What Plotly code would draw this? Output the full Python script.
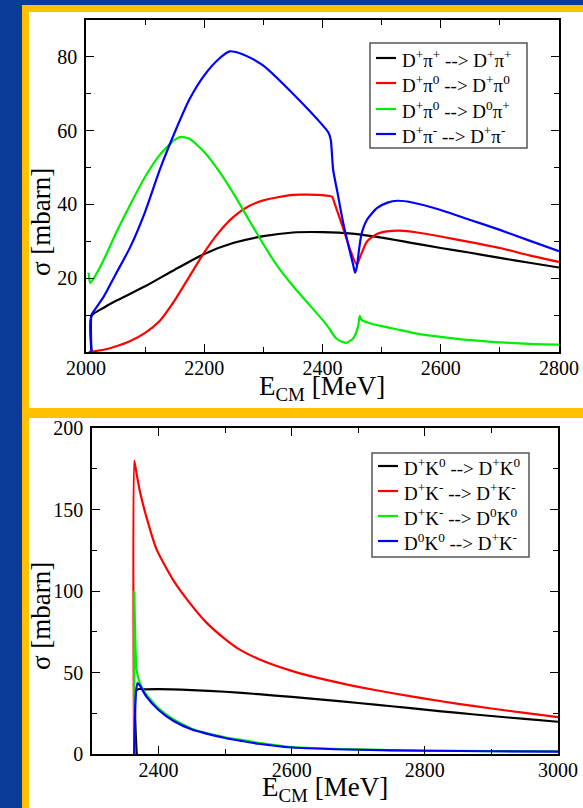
import plotly.graph_objects as go

W, H = 583, 808

# ---------------- top panel data (E_CM [MeV], sigma [mbarn]) ----------------
top_black_E = [2009.2, 2009.3, 2030, 2050, 2100, 2150, 2200, 2250, 2300, 2350, 2400, 2450,
               2500, 2550, 2600, 2650, 2700, 2750, 2800]
top_black_s = [0, 9.8, 12.0, 13.8, 17.8, 22.3, 26.6, 29.6, 31.4, 32.4, 32.5, 32.1,
               31.0, 29.6, 28.2, 26.9, 25.5, 24.2, 22.9]

top_red_E = [2004.6, 2030, 2050, 2075, 2100, 2125, 2150, 2175, 2200, 2225, 2250, 2275, 2300,
             2350, 2400, 2416, 2421, 2435, 2447, 2458, 2464, 2475, 2492, 2509, 2531, 2560,
             2600, 2650, 2700, 2750, 2800]
top_red_s = [0, 0.6, 1.5, 3.0, 5.2, 8.5, 14.0, 20.5, 27.0, 32.5, 36.7, 39.5, 41.1,
             42.6, 42.5, 42.1, 40.0, 33.5, 27.6, 23.6, 25.9, 29.9, 32.0, 32.7, 32.9, 32.4,
             31.3, 29.8, 28.2, 26.2, 24.4]

top_green_E = [2004.4, 2007, 2015, 2030, 2050, 2075, 2100, 2125, 2150, 2160, 2175, 2200, 2225,
               2250, 2275, 2300, 2325, 2350, 2375, 2400, 2413, 2416, 2424, 2433, 2441, 2452,
               2460, 2463, 2466, 2480, 2500, 2531, 2560, 2600, 2650, 2700, 2750, 2800]
top_green_s = [21.5, 18.7, 20.5, 25.0, 32.0, 40.0, 47.5, 53.5, 57.5, 58.3, 57.8, 54.2, 49.0,
               42.8, 36.0, 29.2, 23.0, 17.9, 13.3, 8.7, 6.0, 5.2, 3.6, 2.8, 2.5, 3.7,
               6.8, 9.8, 8.7, 7.8, 7.0, 6.0, 5.0, 4.1, 3.2, 2.6, 2.2, 2.0]

top_blue_E = [2009.2, 2009.3, 2015, 2030, 2050, 2075, 2100, 2125, 2150, 2175, 2200, 2225, 2243,
              2260, 2280, 2300, 2350, 2400, 2410, 2414, 2418, 2425, 2435, 2447, 2452, 2455,
              2458, 2462, 2466, 2475, 2492, 2510, 2527, 2550, 2600, 2650, 2700, 2750, 2800]
top_blue_s = [0, 10.0, 11.5, 15.0, 21.0, 28.5, 38.0, 49.5, 59.5, 68.5, 75.0, 79.5, 81.5,
              81.0, 79.6, 77.6, 70.0, 61.5, 59.5, 57.5, 49.4, 43.5, 35.0, 26.8, 23.5, 21.5,
              23.0, 28.0, 32.0, 35.8, 39.0, 40.5, 41.0, 40.6, 38.5, 35.8, 33.1, 30.2, 27.3]

top_names = ["D<sup>+</sup>π<sup>+</sup> --> D<sup>+</sup>π<sup>+</sup>",
             "D<sup>+</sup>π<sup>0</sup> --> D<sup>+</sup>π<sup>0</sup>",
             "D<sup>+</sup>π<sup>0</sup> --> D<sup>0</sup>π<sup>+</sup>",
             "D<sup>+</sup>π<sup>-</sup> --> D<sup>+</sup>π<sup>-</sup>"]

top_xticks = [2000, 2200, 2400, 2600, 2800]
top_yticks = [20, 40, 60, 80]

# ---------------- bottom panel data ----------------
bot_black_E = [2367.2, 2367.3, 2380, 2400, 2450, 2500, 2550, 2600, 2650, 2700, 2750, 2800,
               2850, 2900, 2950, 3000]
bot_black_s = [0, 39.5, 39.7, 39.8, 39.2, 38.2, 36.7, 35.0, 33.2, 31.3, 29.3, 27.2,
               25.2, 23.3, 21.5, 19.8]

bot_red_E = [2363.3, 2363.4, 2367, 2372, 2382, 2397, 2422, 2447, 2472, 2500, 2522, 2550, 2600,
             2650, 2700, 2750, 2800, 2850, 2900, 2950, 3000]
bot_red_s = [0, 180, 172, 161, 145, 125.5, 106.7, 92.6, 80.6, 70.5, 64.0, 58.3, 51.0,
             45.6, 41.2, 37.4, 34.0, 30.8, 27.9, 25.2, 22.6]

bot_green_E = [2363.3, 2363.4, 2365, 2367, 2372, 2380, 2400, 2422, 2450, 2472, 2500, 2522, 2550,
               2600, 2700, 2800, 2900, 3000]
bot_green_s = [0, 100, 70, 51.5, 43.5, 37.4, 28.0, 21.3, 15.5, 12.8, 10.3, 8.8, 6.9,
               4.3, 2.8, 2.1, 1.8, 1.6]

bot_blue_E = [2363.3, 2366, 2368.6, 2372, 2382, 2400, 2422, 2450, 2472, 2500, 2522, 2550, 2600,
              2700, 2800, 2900, 3000]
bot_blue_s = [0, 38, 43.5, 42.0, 35.0, 27.0, 20.4, 15.0, 12.5, 9.8, 8.2, 6.3, 4.0,
              2.6, 2.0, 1.7, 1.5]

bot_names = ["D<sup>+</sup>K<sup>0</sup> --> D<sup>+</sup>K<sup>0</sup>",
             "D<sup>+</sup>K<sup>-</sup> --> D<sup>+</sup>K<sup>-</sup>",
             "D<sup>+</sup>K<sup>-</sup> --> D<sup>0</sup>K<sup>0</sup>",
             "D<sup>0</sup>K<sup>0</sup> --> D<sup>+</sup>K<sup>-</sup>"]

bot_xticks = [2400, 2600, 2800, 3000]
bot_yticks = [0, 50, 100, 150, 200]

colors = ["#000000", "#ff0000", "#00ee00", "#0000ff"]

FONT = "Liberation Serif, Times New Roman, serif"

fig = go.Figure()

top_series = [(top_black_E, top_black_s), (top_red_E, top_red_s),
              (top_green_E, top_green_s), (top_blue_E, top_blue_s)]
for (xs, ys), name, c in zip(top_series, top_names, colors):
    fig.add_trace(go.Scatter(x=xs, y=ys, mode="lines", name=name, showlegend=False,
                             line=dict(color=c, width=2.2, shape="spline", smoothing=0.6),
                             xaxis="x", yaxis="y"))

bot_series = [(bot_black_E, bot_black_s), (bot_red_E, bot_red_s),
              (bot_green_E, bot_green_s), (bot_blue_E, bot_blue_s)]
for (xs, ys), name, c in zip(bot_series, bot_names, colors):
    fig.add_trace(go.Scatter(x=xs, y=ys, mode="lines", name=name, showlegend=False,
                             line=dict(color=c, width=2.2, shape="spline", smoothing=0.6),
                             xaxis="x2", yaxis="y2"))

# empty traces that only register the tick-label axes (no marks drawn)
fig.add_trace(go.Scatter(x=[], y=[], mode="lines", showlegend=False, hoverinfo="skip",
                         xaxis="x3", yaxis="y"))
fig.add_trace(go.Scatter(x=[], y=[], mode="lines", showlegend=False, hoverinfo="skip",
                         xaxis="x4", yaxis="y2"))


def px(x):
    return x / W


def py(y):
    return 1 - y / H


axis_common = dict(showline=True, linecolor="black", linewidth=1.6, mirror="ticks",
                   ticks="inside", ticklen=8, tickwidth=1.4, tickcolor="black",
                   showgrid=False, zeroline=False, automargin=False,
                   tickfont=dict(family=FONT, size=20, color="black"))
minor_common = dict(ticks="inside", ticklen=5, tickwidth=1.4, tickcolor="black")
label_axis = dict(showline=False, ticks="", showgrid=False, zeroline=False,
                  automargin=False, anchor="free", tickmode="array",
                  tickfont=dict(family=FONT, size=20, color="black"))

shapes = [
    dict(type="rect", xref="paper", yref="paper", x0=px(22), x1=px(583),
         y0=py(808), y1=py(5), fillcolor="#ffc000", line=dict(width=0), layer="below"),
    dict(type="rect", xref="paper", yref="paper", x0=px(29), x1=px(583),
         y0=py(408), y1=py(12), fillcolor="white", line=dict(width=0), layer="below"),
    dict(type="rect", xref="paper", yref="paper", x0=px(29), x1=px(583),
         y0=py(808), y1=py(418), fillcolor="white", line=dict(width=0), layer="below"),
]

annotations = [
    dict(text="E<sub>CM</sub> [MeV]", xref="paper", yref="paper", x=px(322), y=py(388),
         xanchor="center", yanchor="middle", showarrow=False,
         font=dict(family=FONT, size=27, color="black")),
    dict(text="E<sub>CM</sub> [MeV]", xref="paper", yref="paper", x=px(325), y=py(789),
         xanchor="center", yanchor="middle", showarrow=False,
         font=dict(family=FONT, size=27, color="black")),
    dict(text="σ [mbarn]", xref="paper", yref="paper", x=px(41), y=py(222),
         xanchor="center", yanchor="middle", showarrow=False, textangle=-90,
         font=dict(family=FONT, size=27, color="black")),
    dict(text="σ [mbarn]", xref="paper", yref="paper", x=px(41), y=py(616),
         xanchor="center", yanchor="middle", showarrow=False, textangle=-90,
         font=dict(family=FONT, size=27, color="black")),
]

# legend boxes drawn in the page (box, sample lines, entry texts)
legend_specs = [
    dict(box=(370, 43, 527, 148), rows=[58, 83, 109, 134], names=top_names),
    dict(box=(372, 453, 529, 557), rows=[466, 491, 516, 541], names=bot_names),
]
for spec in legend_specs:
    x0, y0, x1, y1 = spec["box"]
    shapes.append(dict(type="rect", xref="paper", yref="paper", x0=px(x0), x1=px(x1),
                       y0=py(y1), y1=py(y0), fillcolor="white",
                       line=dict(color="#555555", width=1.5), layer="above"))
    for ry, name, c in zip(spec["rows"], spec["names"], colors):
        shapes.append(dict(type="line", xref="paper", yref="paper",
                           x0=px(x0 + 6), x1=px(x0 + 26), y0=py(ry), y1=py(ry),
                           line=dict(color=c, width=2.2), layer="above"))
        annotations.append(dict(text=name, xref="paper", yref="paper",
                                x=px(x0 + 30), y=py(ry + 1), xanchor="left",
                                yanchor="middle", showarrow=False,
                                font=dict(family=FONT, size=19, color="black")))

fig.update_layout(
    width=W, height=H, autosize=False,
    margin=dict(l=0, r=0, t=0, b=0, pad=0),
    paper_bgcolor="#0b3a98",
    plot_bgcolor="white",
    font=dict(family=FONT, color="black"),
    showlegend=False,
    xaxis=dict(domain=[px(86), px(559)], anchor="y", range=[2000, 2800],
               tickmode="array", tickvals=top_xticks, showticklabels=False,
               minor=dict(tickmode="array", tickvals=[2100, 2300, 2500, 2700], **minor_common),
               **axis_common),
    xaxis3=dict(domain=[px(86), px(559)], overlaying="x", range=[2000, 2800],
                position=py(354), tickvals=top_xticks, **label_axis),
    yaxis=dict(domain=[py(352), py(20)], anchor="x", range=[0, 90],
               tickmode="array", tickvals=top_yticks, ticklabelstandoff=3,
               minor=dict(tickmode="array", tickvals=[10, 30, 50, 70], **minor_common),
               **axis_common),
    xaxis2=dict(domain=[px(92), px(558)], anchor="y2", range=[2300, 3000],
                tickmode="array", tickvals=bot_xticks, showticklabels=False,
                minor=dict(tickmode="array", tickvals=[2300, 2500, 2700, 2900], **minor_common),
                **axis_common),
    xaxis4=dict(domain=[px(92), px(558)], overlaying="x2", range=[2300, 3000],
                position=py(756), tickvals=bot_xticks, **label_axis),
    yaxis2=dict(domain=[py(754), py(428)], anchor="x2", range=[0, 200],
                tickmode="array", tickvals=bot_yticks, ticklabelstandoff=3,
                minor=dict(tickmode="array", tickvals=[25, 75, 125, 175], **minor_common),
                **axis_common),
    annotations=annotations,
    shapes=shapes,
)

fig.write_html("out.html")
